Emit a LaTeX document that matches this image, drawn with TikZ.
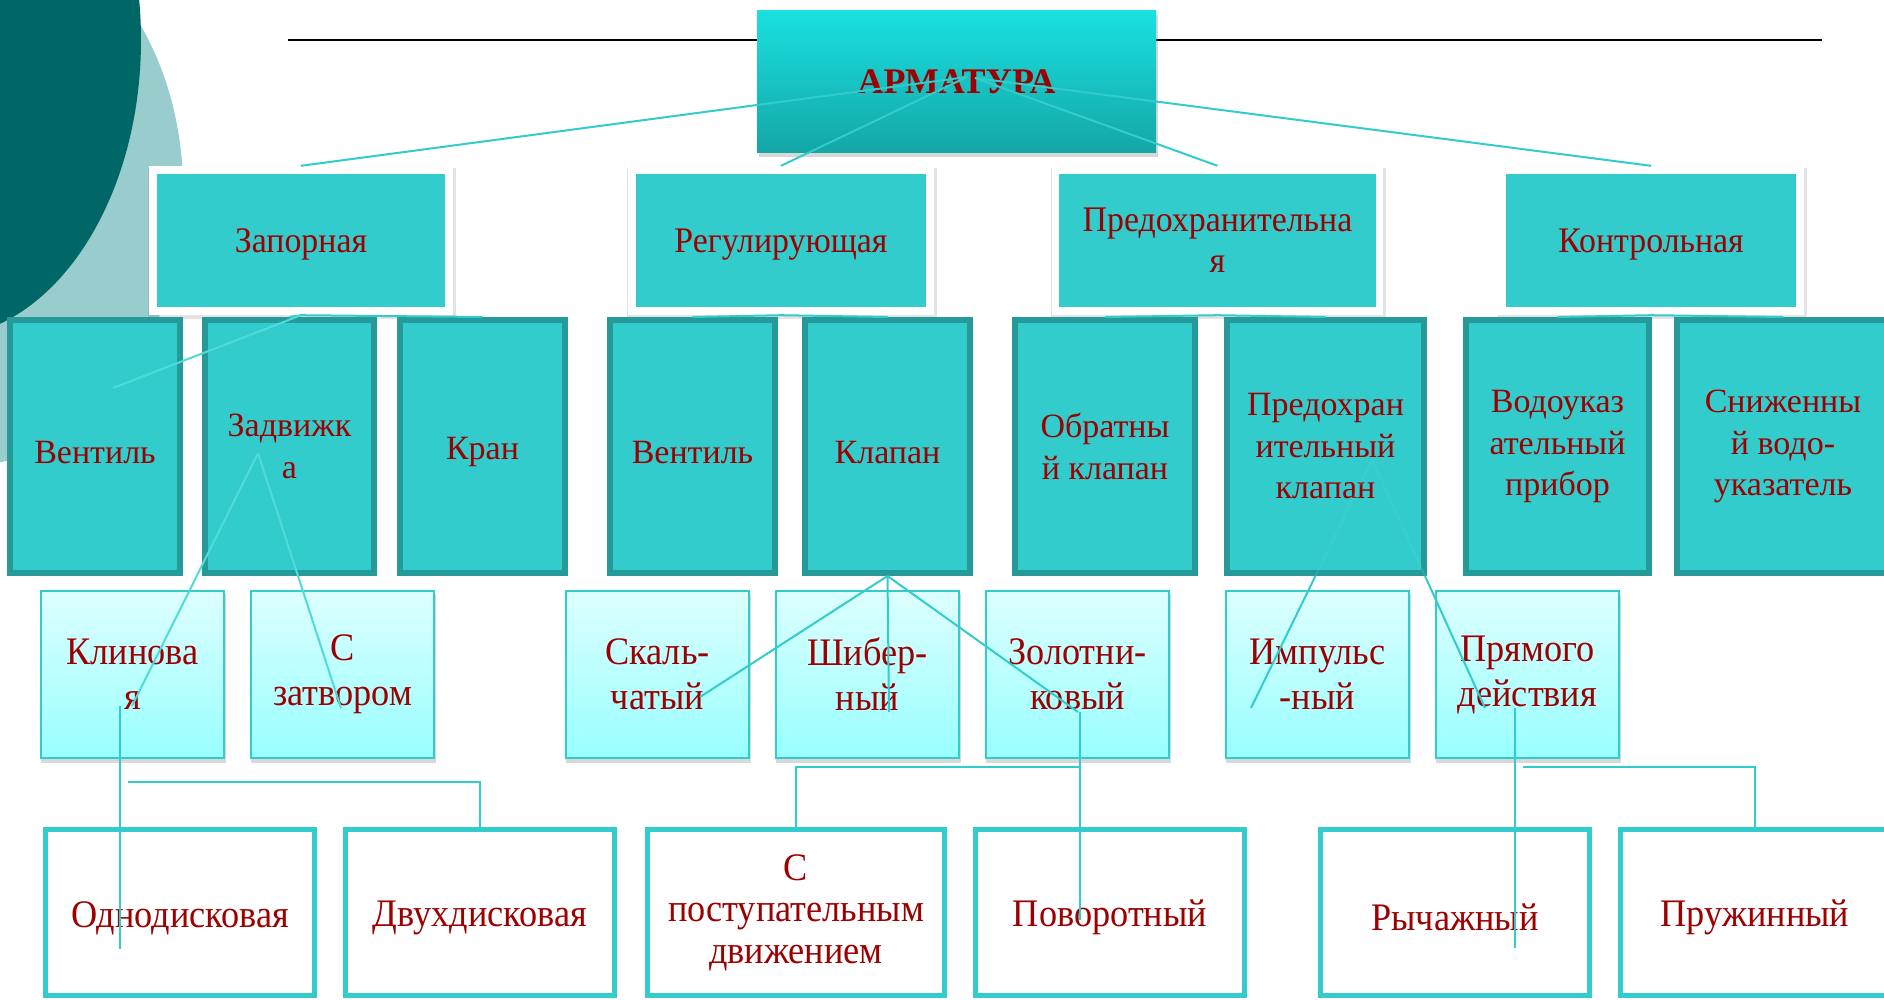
\documentclass[tikz,border=0pt]{standalone}
\usepackage{fontspec}
\setmainfont{Liberation Serif}
\newfontfamily\fA[FakeStretch=0.94]{Liberation Serif}
\newfontfamily\fC[FakeStretch=0.93]{Liberation Serif}
\usetikzlibrary{shadows}
\definecolor{tealA}{HTML}{33CCCC}
\definecolor{tealL}{HTML}{50DADA}
\definecolor{tealD}{HTML}{269999}
\definecolor{txtred}{HTML}{9C0000}
\definecolor{bgdark}{HTML}{006666}
\definecolor{bglight}{HTML}{99CCCC}
\definecolor{ttop}{HTML}{1AE0E0}
\definecolor{tbot}{HTML}{14A6A6}
\definecolor{ltop}{HTML}{DDFFFF}
\definecolor{lbot}{HTML}{99FFFF}
\begin{document}
\begin{tikzpicture}[x=1pt,y=-1pt,
  armbox/.style={top color=ttop, bottom color=tbot, draw=none, inner sep=0pt,
    minimum width=399pt, minimum height=142pt, text=txtred,
    font=\bfseries\fontsize{36}{40}\selectfont,
    drop shadow={opacity=0.3, shadow xshift=2pt, shadow yshift=-4pt}},
  l1out/.style={fill=white, draw=none, inner sep=0pt, minimum height=149pt,
    drop shadow={opacity=0.22, shadow xshift=1pt, shadow yshift=-3pt, shadow scale=1.01}},
  l1in/.style={fill=tealA, draw=none, inner sep=0pt, minimum height=133pt, text=txtred,
    align=center, font=\fA\fontsize{36}{41}\selectfont,
    execute at begin node={\rule{0pt}{32pt}}},
  l2box/.style={fill=tealA, draw=tealD, line width=6pt, inner sep=0pt, minimum height=253pt,
    text=txtred, align=center, font=\fontsize{34}{41.5}\selectfont,
    execute at begin node={\rule{0pt}{34pt}}},
  l3box/.style={top color=ltop, bottom color=lbot, draw=tealA, line width=2pt, inner sep=0pt,
    minimum width=183pt, minimum height=167pt, text=txtred, align=center,
    font=\fC\fontsize{39}{45}\selectfont,
    execute at begin node={\rule{0pt}{36pt}},
    drop shadow={opacity=0.3, shadow xshift=1pt, shadow yshift=-4pt, shadow scale=1.01}},
  l4box/.style={fill=white, draw=tealA, line width=5pt, inner sep=0pt, minimum height=166pt,
    minimum width=269pt, text=txtred, align=center, font=\fC\fontsize{39}{41.5}\selectfont,
    execute at begin node={\rule{0pt}{37pt}}},
  conn/.style={draw=tealA, line width=2pt},
  connL/.style={draw=tealL, line width=2pt},
  faint/.style={draw=tealL, line width=2pt, opacity=0.22}
]
\useasboundingbox (0,0) rectangle (1884,1000);
\clip (0,0) rectangle (1884,1000);
% background
\fill[white] (0,0) rectangle (1884,1000);
\fill[bglight] (-30,190) ellipse [x radius=213pt, y radius=275pt];
\fill[bgdark] (-62,40) ellipse [x radius=203pt, y radius=298pt];
\coordinate (la) at (288,40);
\coordinate (lb) at (1822,40);
\draw[line width=2.7pt, black] (la) -- (lb);

% title
\node[armbox] (arm) at (956.5,82) {АРМАТУРА};

% level 1
\node[l1out, minimum width=304pt] (zap) at (301,240.5) {};
\node[l1in, minimum width=288pt] (zapT) at (301,240.5) {Запорная};
\node[l1out, minimum width=306pt] (reg) at (781,240.5) {};
\node[l1in, minimum width=290pt] (regT) at (781,240.5) {Регулирующая};
\node[l1out, minimum width=331pt] (pre) at (1217.5,240.5) {};
\node[l1in, minimum width=317pt] (preT) at (1217.5,240.5) {Предохранительна\\я};
\node[l1out, minimum width=306pt] (kon) at (1651,240.5) {};
\node[l1in, minimum width=290pt] (konT) at (1651,240.5) {Контрольная};

% title connectors
\coordinate (T1) at (967,77);
\coordinate (T2) at (975,78);
\draw[conn] (T1) -- (zap.north);
\draw[conn] (T1) -- (reg.north);
\draw[conn] (T2) -- (pre.north);
\draw[conn] (T2) -- (kon.north);

% level 2
\node[l2box, minimum width=170pt] (ven1) at (95,446.5) {Вентиль};
\node[l2box, minimum width=169pt] (zad) at (289.5,446.5) {Задвижк\\а};
\node[l2box, minimum width=165pt] (kran) at (482.5,446.5) {Кран};
\node[l2box, minimum width=165pt] (ven2) at (692.5,446.5) {Вентиль};
\node[l2box, minimum width=165pt] (klap) at (887.5,446.5) {Клапан};
\node[l2box, minimum width=180pt] (obr) at (1105,446.5) {Обратны\\й клапан};
\node[l2box, minimum width=197pt] (prk) at (1325.5,446.5) {Предохран\\ительный\\клапан};
\node[l2box, minimum width=183pt] (vod) at (1557.5,446.5) {Водоуказ\\ательный\\прибор};
\node[l2box, minimum width=212pt] (sni) at (1783,446.5) {Сниженны\\й водо-\\указатель};

% level1 -> level2 connectors
\draw[conn] (zap.south) -- (zad.north);
\draw[conn] (zap.south) -- (kran.north);
\draw[conn] (reg.south) -- (ven2.north);
\draw[conn] (reg.south) -- (klap.north);
\draw[conn] (pre.south) -- (obr.north);
\draw[conn] (pre.south) -- (prk.north);
\draw[conn] (kon.south) -- (vod.north);
\draw[conn] (kon.south) -- (sni.north);

% level 3
\node[l3box] (kli) at (132.5,674.5) {Клинова\\я};
\node[l3box] (zat) at (342.5,674.5) {С\\затвором};
\node[l3box] (ska) at (657.5,674.5) {Скаль-\\чатый};
\node[l3box] (shi) at (867.5,674.5) {Шибер-\\ный};
\node[l3box] (zol) at (1077.5,674.5) {Золотни-\\ковый};
\node[l3box] (imp) at (1317.5,674.5) {Импульс\\-ный};
\node[l3box] (pry) at (1527.5,674.5) {Прямого\\действия};

% level 4
\node[l4box] (odn) at (180,912.5) {Однодисковая};
\node[l4box] (dvu) at (480,912.5) {Двухдисковая};
\node[l4box, minimum width=297pt] (spo) at (796,912.5) {С\\поступательным\\движением};
\node[l4box] (pov) at (1110,912.5) {Поворотный};
\node[l4box] (ryc) at (1455,912.5) {Рычажный};
\node[l4box] (pru) at (1755,912.5) {Пружинный};

% overlaid connectors
\coordinate (czv) at (113,388);
\draw[connL] (zap.south) -- (czv);

\coordinate (Z0) at (258,453);
\coordinate (ckl) at (132,706);
\coordinate (czt) at (341,708);
\draw[connL] (Z0) -- (ckl);
\draw[connL] (Z0) -- (czt);
\coordinate (v1a) at (120,706);
\coordinate (v1b) at (120,949);
\draw[conn] (v1a) -- (v1b);
\coordinate (h1a) at (128,782);
\draw[conn] (h1a) -| (dvu.north);

\coordinate (csk) at (700,697);
\coordinate (csh) at (889,712);
\coordinate (czo) at (1078,712);
\draw[conn] (klap.south) -- (csk);
\draw[conn] (klap.south) -- (csh);
\draw[conn] (klap.south) -- (czo);
\coordinate (v2a) at (1080,712);
\coordinate (v2b) at (1080,920);
\draw[conn] (v2a) -- (v2b);
\coordinate (h2a) at (1080,767);
\draw[conn] (h2a) -| (spo.north);

\coordinate (P0) at (1372,460);
\coordinate (imB) at (1315.4,576);
\coordinate (prB) at (1425,576);
\coordinate (cim) at (1251,708);
\coordinate (cpr) at (1485,708);
\draw[faint] (P0) -- (imB);
\draw[faint] (P0) -- (prB);
\draw[conn] (imB) -- (cim);
\draw[conn] (prB) -- (cpr);
\coordinate (v3a) at (1515,708);
\coordinate (v3b) at (1515,948);
\draw[conn] (v3a) -- (v3b);
\coordinate (h3a) at (1523,767);
\draw[conn] (h3a) -| (pru.north);
\end{tikzpicture}
\end{document}
